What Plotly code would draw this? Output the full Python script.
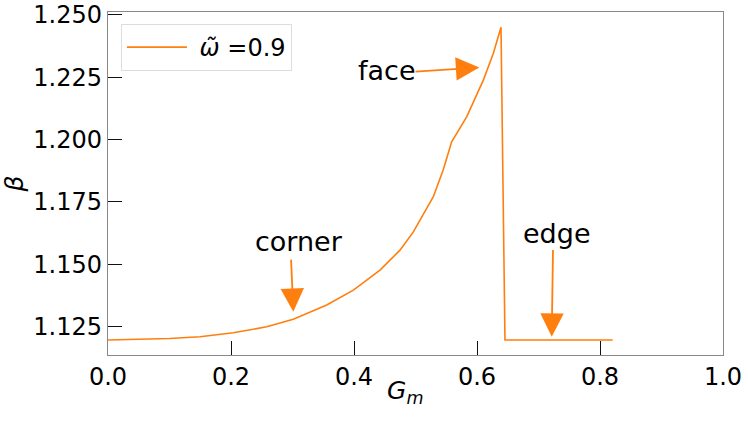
import plotly.graph_objects as go

# beta vs G_m
g_m = [0.0, 0.05, 0.10, 0.1496, 0.2037, 0.258, 0.3013, 0.3556, 0.399, 0.4423,
       0.4748, 0.4965, 0.529, 0.545, 0.5588, 0.5832, 0.6103, 0.6265, 0.639,
       0.6455, 0.8206]
beta = [1.1197, 1.1199, 1.1203, 1.1210, 1.1226, 1.1250, 1.1280, 1.1337, 1.1397,
        1.1477, 1.1557, 1.1630, 1.1771, 1.1878, 1.1991, 1.2091, 1.2238, 1.2345,
        1.2450, 1.1197, 1.1197]

x_ticks = [0.0, 0.2, 0.4, 0.6, 0.8, 1.0]
y_ticks = [1.125, 1.150, 1.175, 1.200, 1.225, 1.250]

# label, text position, arrow tail, arrow tip
notes = [
    ("corner", (0.311, 1.1592), (0.2976, 1.1525), (0.3013, 1.1310)),
    ("face", (0.454, 1.2278), (0.4976, 1.2272), (0.6037, 1.2289)),
    ("edge", (0.730, 1.1622), (0.7236, 1.1564), (0.7215, 1.1210)),
]

orange = "#ff7f0e"
font = "DejaVu Sans"

fig = go.Figure()
fig.add_trace(go.Scatter(x=g_m, y=beta, mode="lines", name="\u00a0<i>ω̃</i> =0.9",
                         line=dict(color=orange, width=1.6)))

for label, (tx, ty), (ax, ay), (hx, hy) in notes:
    fig.add_annotation(x=tx, y=ty, text=label, showarrow=False,
                       font=dict(family=font, size=27, color="black"))
    fig.add_annotation(x=hx, y=hy, ax=ax, ay=ay, axref="x", ayref="y",
                       text="", showarrow=True, arrowcolor=orange,
                       arrowhead=2, arrowsize=2.6, arrowwidth=1.8)

# x axis title as a paper annotation so it sits where the reference has it
fig.add_annotation(x=0.483, y=-0.108, xref="paper", yref="paper",
                   text="<i>G</i><sub><i>m</i></sub>", showarrow=False,
                   yanchor="middle", font=dict(family=font, size=25))

fig.update_layout(
    width=748, height=423,
    margin=dict(l=108, r=25, t=12, b=68),
    plot_bgcolor="white", paper_bgcolor="white",
    font=dict(family=font, size=24, color="black"),
    showlegend=True,
    legend=dict(x=0.021, y=0.965, xanchor="left", yanchor="top",
                bordercolor="#dddddd", borderwidth=1, itemwidth=60,
                font=dict(family=font, size=24)),
)
fig.update_xaxes(range=[0, 1], tickvals=x_ticks, ticktext=[f"{v:.1f}" for v in x_ticks],
                 ticks="inside", ticklen=14, tickwidth=1.3, tickcolor="#111",
                 showline=True, linecolor="#888", linewidth=1.3, mirror=True,
                 showgrid=False, zeroline=False, automargin=False)
fig.update_yaxes(range=[1.1137, 1.2511], tickvals=y_ticks, ticktext=[f"{v:.3f}" for v in y_ticks],
                 ticks="inside", ticklen=14, tickwidth=1.3, tickcolor="#111",
                 showline=True, linecolor="#888", linewidth=1.3, mirror=True,
                 showgrid=False, zeroline=False, automargin=False,
                 title=dict(text="<i>β</i>", standoff=4,
                            font=dict(family=font, size=25)))

# drop the browser's default body margin so the figure fills the window
fig.write_html("out.html", config={"displayModeBar": False},
               post_script="document.body.style.margin='0';")
